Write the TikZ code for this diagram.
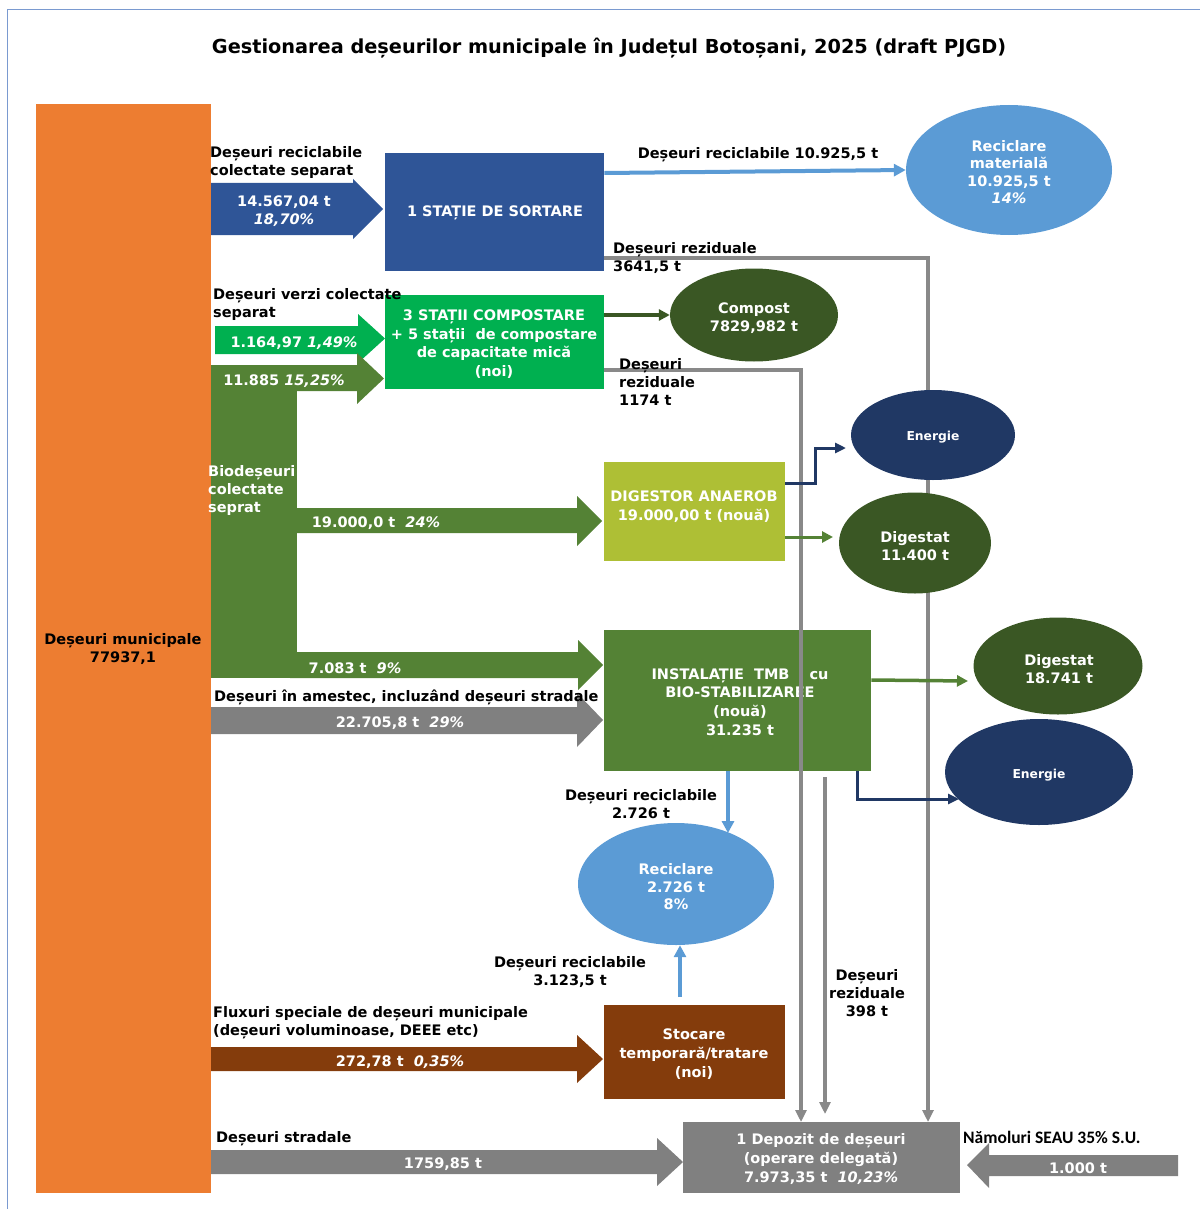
\documentclass[tikz,border=0pt]{standalone}
\usepackage{fontspec}
\setmainfont{DejaVu Sans}
\newfontfamily\calfont{Carlito}
\usetikzlibrary{arrows.meta,shapes.geometric,calc}
\definecolor{corange}{HTML}{ED7D31}
\definecolor{csort}{HTML}{2F5597}
\definecolor{cbright}{HTML}{00B050}
\definecolor{cgreen}{HTML}{548235}
\definecolor{clime}{HTML}{AEBF35}
\definecolor{cdkgreen}{HTML}{3A5724}
\definecolor{cnavy}{HTML}{203864}
\definecolor{clblue}{HTML}{5B9BD5}
\definecolor{cgray}{HTML}{808080}
\definecolor{cline}{HTML}{898989}
\definecolor{cbrown}{HTML}{843C0C}
\definecolor{cframe}{HTML}{7A9AD0}
\newcommand\fs[2]{\fontsize{#1}{#2}\selectfont}
\newcommand\rarrow[8]{\fill[#1] (#2,#4) -- (#3,#4) -- (#3,#6) -- (#8,{(#6+#7)/2}) -- (#3,#7) -- (#3,#5) -- (#2,#5) -- cycle;}
\tikzset{
  txt/.style={font=\bfseries\fs{14.5}{18}, inner sep=0, align=left, anchor=west, yshift=-2pt},
  ctxt/.style={font=\bfseries\fs{14.5}{18}, inner sep=0, align=center, yshift=-2pt},
  wtxt/.style={ctxt, text=white},
  btxt/.style={wtxt, font=\bfseries\fs{14.5}{18.8}},
  boxst/.style={rectangle, inner sep=0, anchor=north west, draw=none},
  ell/.style={ellipse, inner sep=0, text=white, font=\bfseries\fs{14.5}{17.5}, align=center},
  ellt/.style={inner sep=0, text=white, font=\bfseries\fs{14.5}{17.5}, align=center, yshift=-2pt},
  resid/.style={draw=cline, line width=4pt, -{Triangle[length=12pt,width=11pt]}},
  bluarr/.style={draw=clblue, line width=4pt, -{Triangle[length=12pt,width=12pt]}},
  navarr/.style={draw=cnavy, line width=3pt, -{Triangle[length=11pt,width=10pt]}},
  grnarr/.style={draw=cgreen, line width=3.5pt, -{Triangle[length=11pt,width=11pt]}},
}
\begin{document}
\begin{tikzpicture}[x=1pt,y=-1pt]
\useasboundingbox (0,0) rectangle (1200,1209);
% frame
\draw[cframe, line width=1pt] (7,1209) -- (7,9.5) -- (1200,9.5);
% title
\node[font=\bfseries\fs{19.3}{22}, inner sep=0, yshift=-2pt] (title) at (609,46) {Gestionarea deșeurilor municipale în Județul Botoșani, 2025 (draft PJGD)};
% orange column
\node[boxst, fill=corange, minimum width=175pt, minimum height=1089pt] (mun) at (36,104) {};
\node[ctxt] (munt) at (123,647) {Deșeuri municipale\\77937,1};
% block arrows
\rarrow{csort}{211}{353}{183}{235}{179}{239}{383}
\rarrow{cbright}{215}{358}{326}{354}{314}{363}{385}
\fill[cgreen] (211,365) rectangle (297,678);
\rarrow{cgreen}{290}{357}{365}{391}{353}{404}{384}
\rarrow{cgreen}{290}{577}{508}{533}{496}{546}{602}
\rarrow{cgreen}{290}{578}{652}{678}{640}{690}{603}
\rarrow{cgray}{211}{577}{707}{734}{693}{747}{603}
\rarrow{cbrown}{211}{577}{1047}{1071}{1035}{1083}{603}
\rarrow{cgray}{211}{657}{1150}{1174}{1138}{1186}{683}
\fill[cgray] (1178,1155) -- (989,1155) -- (989,1143) -- (967,1165) -- (989,1188) -- (989,1176) -- (1178,1176) -- cycle;
% arrow texts
\node[wtxt] (a1) at (284,209) {14.567,04 t\\\itshape 18,70\%};
\node[wtxt] (a2) at (294,341) {1.164,97 \itshape 1,49\%};
\node[wtxt] (a3) at (284,379) {11.885 \itshape 15,25\%};
\node[wtxt] (a4) at (376,521) {19.000,0 t\ \ \itshape 24\%};
\node[wtxt] (a5) at (355,666) {7.083 t\ \ \itshape 9\%};
\node[wtxt] (a6) at (400,721) {22.705,8 t\ \ \itshape 29\%};
\node[wtxt] (a7) at (400,1060) {272,78 t\ \ \itshape 0,35\%};
\node[wtxt] (a8) at (443,1162) {1759,85 t};
\node[wtxt] (a9) at (1078,1166) {1.000 t};
\node[txt, text=white] (bio) at (208,488) {Biodeșeuri\\colectate\\seprat};
% boxes
\node[boxst, fill=csort, minimum width=219pt, minimum height=118pt] (sort) at (385,153) {};
\node[btxt] (sortt) at (495,211) {1 STAȚIE DE SORTARE};
\node[boxst, fill=cbright, minimum width=219pt, minimum height=94pt] (comp) at (385,295) {};
\node[btxt] (compt) at (494,342) {3 STAȚII COMPOSTARE\\+ 5 stații\ \ de compostare\\de capacitate mică\\(noi)};
\node[boxst, fill=clime, minimum width=181pt, minimum height=99pt] (dig) at (604,462) {};
\node[btxt] (digt) at (694,505) {DIGESTOR ANAEROB\\19.000,00 t (nouă)};
\node[boxst, fill=cgreen, minimum width=267pt, minimum height=141pt] (tmb) at (604,630) {};
\node[btxt] (tmbt) at (740,700) {INSTALAȚIE\ \ TMB\hspace{20pt}cu\\BIO-STABILIZAREE\\(nouă)\\31.235 t};
\node[boxst, fill=cbrown, minimum width=181pt, minimum height=94pt] (stoc) at (604,1005) {};
\node[btxt] (stoct) at (694,1052) {Stocare\\temporară/tratare\\(noi)};
\node[boxst, fill=cgray, minimum width=277pt, minimum height=71pt] (dep) at (683,1122) {};
\node[btxt] (dept) at (821,1157) {1 Depozit de deșeuri\\(operare delegată)\\7.973,35 t\ \ \itshape 10,23\%};
% residual lines
\draw[resid] (sort.east |- 0,258) -- (928,258) -- (dep.north -| 928,0);
\draw[resid] (comp.east |- 0,370) -- (801,370) -- (dep.north -| 801,0);
\draw[resid] (825,777) -- (825,1114);
% ellipses
\node[ell, fill=clblue, minimum width=206pt, minimum height=130pt] (recm) at (1009,170) {};
\node[ellt] (recmt) at (1009,170) {Reciclare\\materială\\10.925,5 t\\\itshape 14\%};
\node[ell, fill=cdkgreen, minimum width=168pt, minimum height=93pt] (cpe) at (754,315) {};
\node[ellt] (cpet) at (754,316) {Compost\\7829,982 t};
\node[ell, fill=cnavy, minimum width=164pt, minimum height=90pt] (en1) at (933,435) {};
\node[ellt, font=\bfseries\fs{12.3}{15}] (en1t) at (933,435) {Energie};
\node[ell, fill=cdkgreen, minimum width=152pt, minimum height=101pt] (dg1) at (915,543) {};
\node[ellt] (dg1t) at (915,544) {Digestat\\11.400 t};
\node[ell, fill=cdkgreen, minimum width=169pt, minimum height=97pt] (dg2) at (1058,666) {};
\node[ellt] (dg2t) at (1059,667) {Digestat\\18.741 t};
\node[ell, fill=cnavy, minimum width=188pt, minimum height=106pt] (en2) at (1039,772) {};
\node[ellt, font=\bfseries\fs{12.3}{15}] (en2t) at (1039,773) {Energie};
\node[ell, fill=clblue, minimum width=196pt, minimum height=122pt] (rec2) at (676,884) {};
\node[ellt] (rec2t) at (676,885) {Reciclare\\2.726 t\\8\%};
% other arrows
\draw[bluarr] (sort.east |- 0,173) -- (recm.west);
\draw[bluarr] (tmb.south -| 728,0) -- (728,833);
\draw[bluarr] (stoc.north -| 680,0) ++(0,-8) -- (rec2.south -| 680,0);
\draw[grnarr, draw=cdkgreen, line width=4pt] (comp.east |- 0,315) -- (cpe.west);
\draw[grnarr, line width=3pt] (dig.east |- 0,537) -- (833,537);
\draw[grnarr] (tmb.east |- 0,680) -- (968,681);
\draw[navarr] (dig.east |- 0,483) -- (815,483) -- (815,448) -- (846,448);
\draw[navarr] (tmb.south -| 857,0) -- (857,799) -- (959,799);
% labels
\node[txt] (l1) at (210,161) {Deșeuri reciclabile\\colectate separat};
\node[ctxt] (l2) at (758,153) {Deșeuri reciclabile 10.925,5 t};
\node[txt] (l3) at (613,256) {Deșeuri reziduale\\3641,5 t};
\node[txt] (l4) at (213,302) {Deșeuri verzi colectate\\separat};
\node[txt] (l5) at (619,380) {Deșeuri\\reziduale\\1174 t};
\node[txt] (l6) at (214,695) {Deșeuri în amestec, incluzând deșeuri stradale};
\node[ctxt] (l7) at (641,802) {Deșeuri reciclabile\\2.726 t};
\node[ctxt] (l8) at (570,970) {Deșeuri reciclabile\\3.123,5 t};
\node[ctxt] (l9) at (867,991) {Deșeuri\\reziduale\\398 t};
\node[txt] (l10) at (213,1021) {Fluxuri speciale de deșeuri municipale\\(deșeuri voluminoase, DEEE etc)};
\node[txt] (l11) at (216,1137) {Deșeuri stradale};
\node[txt, font=\calfont\bfseries\fs{17.5}{20}] (l12) at (963,1135) {Nămoluri SEAU 35\% S.U.};
\end{tikzpicture}
\end{document}
